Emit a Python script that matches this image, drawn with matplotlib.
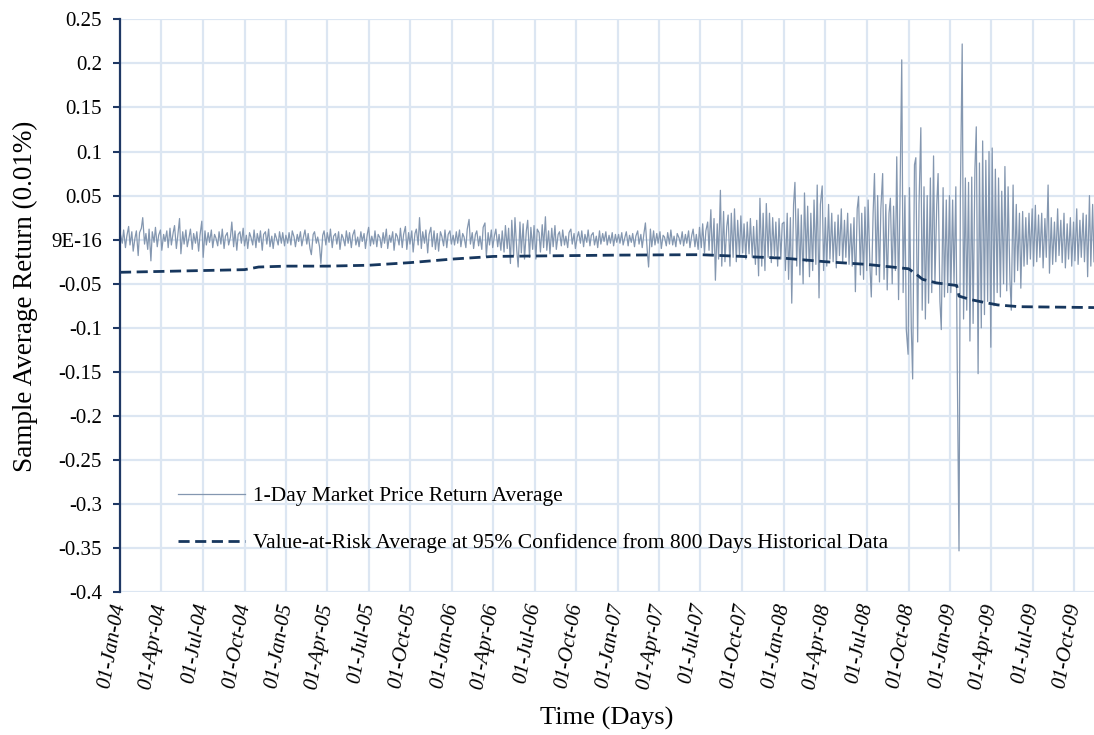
import numpy as np
import pandas as pd
import matplotlib
matplotlib.use("Agg")
import matplotlib.pyplot as plt
import matplotlib.dates as mdates

plt.rcParams['font.family'] = ['Liberation Serif', 'DejaVu Serif']

# 1-day market price return average (Tue, Fri)
ret_2004 = [0.006, -0.004, 0.011, -0.009, 0.004, 0.015, -0.006, 0.009, -0.013, 0.002,
            0.010, -0.018, 0.008, 0.013, 0.025, -0.005, 0.007, -0.011, 0.012, -0.024,
            0.009, -0.003, 0.014, -0.008, 0.005, 0.011, -0.012, 0.006, -0.002, 0.010,
            -0.009, 0.013, -0.006, 0.008, 0.016, -0.010, 0.004, 0.024, -0.016, 0.009,
            -0.005, 0.011, -0.008, 0.003, 0.012, -0.011, 0.007, -0.004, 0.009, -0.013,
            0.005, 0.021, -0.020, 0.010, -0.006, 0.008, -0.003, 0.011, -0.009, 0.006,
            0.002, -0.007, 0.009, -0.005, 0.012, -0.010, 0.004, 0.008, -0.006, 0.003,
            0.020, -0.008, 0.010, -0.012, 0.006, 0.009, -0.004, 0.013, -0.007, 0.005,
            -0.010, 0.008, 0.003, -0.006, 0.011, -0.009, 0.007, -0.003, 0.010, -0.012,
            0.006, 0.009, -0.005, 0.012, -0.008, 0.004, -0.010, 0.007, 0.002, -0.006,
            0.009, -0.004, 0.008, -0.007, 0.005]
ret_2005 = [-0.004, 0.008, -0.006, 0.010, 0.003, -0.008, 0.006, -0.002, 0.009, -0.007,
            0.004, 0.011, -0.005, 0.007, -0.010, -0.017, 0.006, 0.009, -0.004, 0.003,
            -0.008, -0.027, 0.005, 0.010, -0.006, 0.008, -0.003, 0.012, -0.009, 0.004,
            0.007, -0.005, 0.009, -0.011, 0.006, 0.002, -0.007, 0.010, -0.004, 0.008,
            -0.009, 0.005, 0.011, -0.006, 0.003, -0.008, 0.009, -0.002, 0.007, -0.010,
            0.006, 0.014, -0.007, 0.004, -0.005, 0.010, -0.008, 0.006, 0.002, -0.009,
            0.008, -0.004, 0.012, -0.010, 0.005, -0.003, 0.009, -0.012, 0.007, 0.004,
            -0.006, 0.013, -0.009, 0.006, 0.015, -0.011, 0.008, -0.005, 0.010, -0.014,
            0.007, 0.012, -0.006, 0.025, -0.010, 0.009, -0.004, 0.011, -0.015, 0.006,
            0.014, -0.008, 0.010, -0.011, 0.007, -0.013, 0.009, 0.004, -0.007, 0.011,
            -0.009, 0.006, 0.010, -0.005]
ret_2006 = [0.005, -0.006, 0.009, -0.004, 0.011, -0.008, 0.007, 0.003, -0.009, 0.012,
            0.023, -0.005, 0.008, -0.010, 0.006, 0.010, -0.007, 0.004, -0.011, 0.014,
            0.019, -0.019, 0.008, -0.006, 0.011, -0.009, 0.005, 0.012, -0.008, 0.006,
            -0.012, 0.010, -0.014, 0.016, -0.010, 0.013, -0.027, 0.022, -0.018, 0.025,
            -0.012, -0.031, 0.020, -0.015, 0.018, -0.022, 0.010, 0.022, -0.020, 0.014,
            -0.011, 0.016, -0.022, 0.012, 0.008, -0.014, 0.017, -0.009, 0.026, -0.012,
            0.010, -0.016, 0.013, -0.008, 0.016, -0.011, 0.006, 0.009, -0.007, 0.011,
            -0.006, 0.004, -0.009, 0.008, 0.012, -0.005, 0.007, -0.010, 0.003, 0.009,
            -0.004, 0.010, -0.008, 0.006, -0.003, 0.011, -0.007, 0.005, 0.008, -0.006,
            0.004, -0.009, 0.010, -0.005, 0.007, -0.002, 0.009, -0.006, 0.005, -0.004,
            0.008, -0.007, 0.006, -0.003]
ret_2007 = [0.006, -0.004, 0.008, -0.006, 0.003, 0.009, -0.007, 0.005, -0.003, 0.007,
            -0.008, 0.004, 0.010, -0.005, 0.006, -0.009, 0.008, 0.019, -0.012, -0.031,
            0.012, -0.008, 0.010, -0.006, 0.007, -0.004, 0.009, -0.010, 0.005, 0.003,
            -0.007, 0.008, -0.005, 0.011, -0.006, 0.004, -0.008, 0.007, 0.002, -0.005,
            0.009, -0.007, 0.006, -0.004, 0.010, -0.009, 0.005, 0.012, -0.008, 0.006,
            -0.011, 0.014, -0.009, 0.018, -0.015, 0.010, 0.020, -0.012, 0.034, -0.018,
            0.024, -0.046, 0.018, -0.022, 0.056, -0.030, 0.032, -0.025, 0.015, 0.028,
            -0.030, 0.030, -0.020, 0.035, -0.025, 0.022, -0.018, 0.027, -0.015, 0.018,
            -0.022, 0.020, -0.016, 0.024, -0.020, 0.015, -0.028, 0.022, -0.041, 0.047,
            -0.030, 0.030, -0.035, 0.041, -0.020, 0.030, -0.026, 0.025, -0.018, 0.020,
            -0.030, 0.024, -0.022, 0.018]
ret_2008 = [0.020, -0.035, 0.030, -0.045, 0.025, -0.072, 0.040, 0.065, -0.030, 0.035,
            -0.040, 0.028, -0.050, 0.053, -0.025, 0.038, -0.042, 0.030, -0.035, 0.045,
            -0.028, 0.062, -0.066, 0.040, 0.061, -0.035, 0.025, -0.030, 0.040, -0.022,
            0.030, -0.025, 0.020, -0.032, 0.028, -0.018, 0.035, -0.026, 0.022, -0.020,
            0.030, -0.028, 0.018, -0.030, 0.025, -0.059, 0.035, 0.049, -0.040, 0.030,
            -0.045, 0.037, -0.035, 0.045, -0.030, -0.065, 0.030, 0.075, -0.040, 0.050,
            -0.048, 0.035, 0.075, -0.045, 0.040, -0.057, 0.030, 0.047, -0.050, 0.038,
            -0.035, 0.094, -0.068, 0.040, 0.204, -0.060, 0.050, -0.102, -0.130, 0.059,
            -0.100, -0.158, 0.085, 0.093, -0.116, 0.040, 0.127, -0.080, 0.060, -0.090,
            0.050, -0.072, 0.070, -0.060, 0.095, -0.050, 0.040, 0.075, -0.070, -0.102,
            0.059, -0.065, 0.045, -0.060, 0.050]
ret_2009 = [-0.060, 0.045, -0.050, 0.060, -0.136, -0.353, 0.050, 0.222, -0.090, 0.070,
            -0.080, 0.065, -0.115, 0.071, -0.095, 0.080, 0.128, -0.152, 0.087, -0.100,
            0.112, -0.085, 0.090, -0.070, 0.100, -0.122, 0.104, -0.075, 0.080, -0.060,
            0.070, -0.065, 0.055, -0.050, 0.083, -0.058, 0.060, -0.045, -0.080, 0.062,
            -0.048, 0.040, -0.035, 0.030, -0.055, 0.032, -0.030, 0.025, -0.028, 0.030,
            -0.022, 0.035, -0.030, 0.039, -0.025, 0.028, -0.020, 0.030, -0.032, 0.024,
            -0.020, 0.062, -0.038, 0.025, -0.028, 0.020, -0.025, 0.035, -0.018, 0.022,
            -0.026, 0.030, -0.032, 0.018, -0.022, 0.025, -0.030, 0.020, -0.024, 0.035,
            -0.028, 0.022, -0.020, 0.030, -0.025, 0.028, -0.042, 0.050, -0.030, 0.040,
            -0.025]

# VaR average at 95% confidence
var_dates = ["2004-01-01", "2004-04-01", "2004-07-01", "2004-10-01", "2004-11-01",
             "2005-01-01", "2005-04-01", "2005-07-01", "2005-10-01", "2006-01-01",
             "2006-04-01", "2006-07-01", "2006-10-01", "2007-01-01", "2007-07-01",
             "2007-10-01", "2008-01-01", "2008-04-01", "2008-07-01", "2008-10-01",
             "2008-10-15", "2008-11-01", "2008-12-01", "2009-01-15", "2009-01-20",
             "2009-02-15", "2009-03-15", "2009-04-15", "2009-06-01", "2009-11-13"]
var_values = [-0.037, -0.036, -0.035, -0.034, -0.031,
              -0.030, -0.030, -0.029, -0.026, -0.022,
              -0.019, -0.0185, -0.018, -0.0175, -0.017,
              -0.019, -0.021, -0.025, -0.028, -0.033,
              -0.038, -0.045, -0.049, -0.052, -0.064,
              -0.068, -0.071, -0.074, -0.076, -0.077]

y_ticks = [0.25, 0.2, 0.15, 0.1, 0.05, 0.0, -0.05, -0.1, -0.15, -0.2, -0.25, -0.3, -0.35, -0.4]
y_tick_labels = ["0.25", "0.2", "0.15", "0.1", "0.05", "9E-16", "-0.05", "-0.1", "-0.15",
                 "-0.2", "-0.25", "-0.3", "-0.35", "-0.4"]

parts = []
for year, vals in [(2004, ret_2004), (2005, ret_2005), (2006, ret_2006),
                   (2007, ret_2007), (2008, ret_2008), (2009, ret_2009)]:
    tue = pd.date_range(f"{year}-01-01", f"{year}-12-31", freq="W-TUE")
    fri = pd.date_range(f"{year}-01-01", f"{year}-12-31", freq="W-FRI")
    d = tue.union(fri)[:len(vals)]
    parts.append(pd.Series(vals, index=d))
ret = pd.concat(parts)
var = pd.Series(var_values, index=pd.to_datetime(var_dates))

navy = '#1f3864'
fig = plt.figure(figsize=(10.94, 7.35), dpi=100)
ax = fig.add_axes([120 / 1094, 1 - 592.3 / 735, 974 / 1094, 573 / 735])

ax.plot(ret.index, ret.values, color='#8497b0', lw=0.9,
        label='1-Day Market Price Return Average')
ax.plot(var.index, var.values, color='#17375e', lw=2, ls=(0, (4, 2)),
        label='Value-at-Risk Average at 95% Confidence from 800 Days Historical Data')

ax.set_xlim(pd.Timestamp("2004-01-01"), pd.Timestamp("2009-11-13"))
ax.set_ylim(-0.4, 0.25)
ax.set_yticks(y_ticks)
ax.set_yticklabels(y_tick_labels)
ax.xaxis.set_major_locator(mdates.MonthLocator(bymonth=[1, 4, 7, 10], bymonthday=1))
ax.xaxis.set_major_formatter(mdates.DateFormatter('%d-%b-%y'))

ax.grid(True, color='#dce6f2', lw=1.6)
ax.set_axisbelow(True)
for s in ['top', 'right', 'bottom']:
    ax.spines[s].set_visible(False)
ax.spines['left'].set_color(navy)
ax.spines['left'].set_linewidth(1.6)
ax.spines['left'].set_zorder(3)

ax.tick_params(axis='y', direction='out', length=5, width=1.5, color=navy,
               labelsize=15, pad=8)
ax.tick_params(axis='x', length=0, labelsize=15, pad=8)
for lab in ax.get_xticklabels():
    lab.set_rotation(80)
    lab.set_rotation_mode('anchor')
    lab.set_ha('right')
    lab.set_va('center')
    lab.set_style('italic')

fig.text(607 / 1094, 1 - 718 / 735, 'Time (Days)', ha='center', va='center', fontsize=19)
fig.text(25 / 1094, 1 - 296 / 735, 'Sample Average Return (0.01%)', ha='center',
         va='center', rotation=90, fontsize=19.5)

ax.legend(loc='upper left', bbox_to_anchor=((178 - 120) / 974, (592.3 - 486) / 573),
          frameon=False, fontsize=15.5, handlelength=3.1, handletextpad=0.4,
          labelspacing=1.25, borderpad=0, borderaxespad=0)

fig.savefig('out.png', dpi=100)
